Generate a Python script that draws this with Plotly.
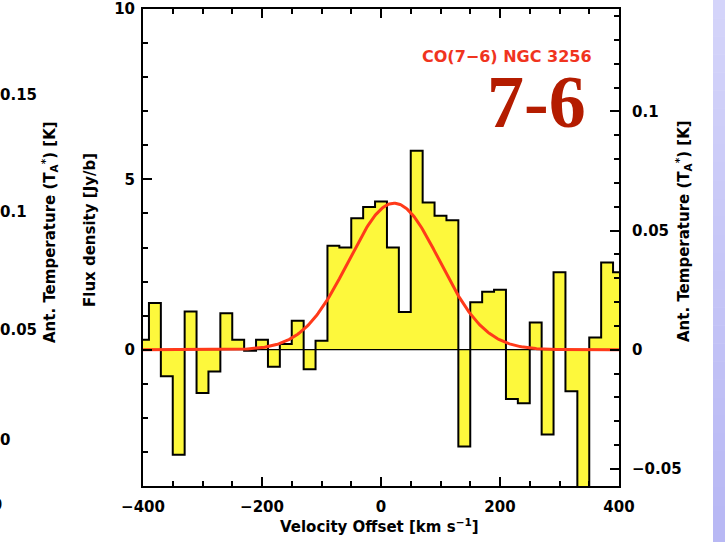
import numpy as np
import plotly.graph_objects as go

# ---------------- data ----------------
bin_centers = [-400, -380, -360, -340, -320, -300, -280, -260, -240, -220,
               -200, -180, -160, -140, -120, -100, -80, -60, -40, -20,
               0, 20, 40, 60, 80, 100, 120, 140, 160, 180,
               200, 220, 240, 260, 280, 300, 320, 340, 360, 380, 400]
flux_density = [0.29, 1.37, -0.78, -3.08, 1.12, -1.27, -0.64, 1.07, 0.29, -0.03,
                0.29, -0.50, 0.17, 0.85, -0.57, 0.26, 3.05, 3.00, 3.86, 4.19,
                4.35, 3.00, 1.11, 5.84, 4.32, 3.93, 3.80, -2.84, 1.39, 1.70,
                1.76, -1.45, -1.57, 0.80, -2.49, 2.27, -1.22, -4.60, 0.36, 2.56, 2.27]
bin_width = 20
# Gaussian fit
fit_amplitude = 4.30   # Jy/b
fit_center = 22.0      # km/s
fit_fwhm = 180.0       # km/s
# conversion Jy/b -> K (right axis)
k_per_jy = 0.0143
x_range = [-400, 400]
y_range = [-4, 10]
title_text = "CO(7\u22126) NGC 3256"
big_label = "7-6"
# tick labels of the neighbouring (cut-off) panel on the left
prev_panel_labels = ["0.15", "0.1", "0.05", "0"]

# ---------------- layout geometry ----------------
W_FIG, H_FIG = 725, 542
L, R, T, B = 143, 619, 9, 486
PW, PH = R - L, B - T


def px(x):
    return (x - L) / PW


def py(y):
    return (B - y) / PH


FONT = "DejaVu Sans"

edges = [c - bin_width / 2 for c in bin_centers] + [bin_centers[-1] + bin_width / 2]
steps = flux_density + [flux_density[-1]]

sigma = fit_fwhm / (2 * np.sqrt(2 * np.log(2)))
vfit = np.linspace(x_range[0], x_range[1], 401)
ffit = fit_amplitude * np.exp(-0.5 * ((vfit - fit_center) / sigma) ** 2)

fig = go.Figure()
fig.add_trace(go.Scatter(x=edges, y=steps, mode="lines", line_shape="hv",
                         line=dict(color="black", width=2),
                         fill="tozeroy", fillcolor="#fdf83c",
                         hoverinfo="skip", showlegend=False))
fig.add_trace(go.Scatter(x=x_range, y=[0, 0], mode="lines",
                         line=dict(color="black", width=1.2),
                         hoverinfo="skip", showlegend=False))
fig.add_trace(go.Scatter(x=vfit, y=ffit, mode="lines",
                         line=dict(color="#ff3a1a", width=3),
                         hoverinfo="skip", showlegend=False))
fig.add_trace(go.Scatter(x=[0], y=[0], yaxis="y2", mode="markers",
                         marker=dict(opacity=0), hoverinfo="skip", showlegend=False))

tickfont = dict(family=FONT, size=15, color="black", weight="bold")
axis_common = dict(ticks="inside", ticklen=9, tickwidth=1.5, tickcolor="black",
                   showline=True, linewidth=2, linecolor="black", automargin=False,
                   showgrid=False, zeroline=False, tickfont=tickfont)
minor_common = dict(ticks="inside", ticklen=5, tickwidth=1.5, tickcolor="black",
                    showgrid=False)

fig.update_layout(
    width=W_FIG, height=H_FIG,
    margin=dict(l=L, r=W_FIG - R, t=T, b=H_FIG - B, autoexpand=False),
    paper_bgcolor="white", plot_bgcolor="white",
    xaxis=dict(range=x_range, tickmode="linear", tick0=-400, dtick=200,
               mirror="ticks", ticklabelstandoff=6,
               minor=dict(dtick=50, tick0=-400, **minor_common),
               **axis_common),
    yaxis=dict(range=y_range, tickmode="linear", tick0=0, dtick=5,
               ticklabelstandoff=3,
               minor=dict(dtick=1, tick0=0, **minor_common),
               **axis_common),
    yaxis2=dict(range=[y_range[0] * k_per_jy, y_range[1] * k_per_jy],
                overlaying="y", side="right", tickmode="linear", tick0=0, dtick=0.05,
                ticklabelstandoff=8,
                minor=dict(dtick=0.01, tick0=0, **minor_common),
                **axis_common),
)

lab_font = dict(family=FONT, size=15, color="black", weight="bold")
ann = []
ann.append(dict(text="Velocity Offset [km s<sup>\u22121</sup>]", x=px(379), y=py(526),
                xref="paper", yref="paper", showarrow=False, font=lab_font,
                xanchor="center", yanchor="middle"))
ann.append(dict(text="Flux density [Jy/b]", x=px(90), y=py(230),
                xref="paper", yref="paper", showarrow=False, font=lab_font,
                textangle=-90, xanchor="center", yanchor="middle"))
ann.append(dict(text="Ant. Temperature (T<sub>A</sub><sup>*</sup>) [K]", x=px(683), y=py(231),
                xref="paper", yref="paper", showarrow=False, font=lab_font,
                textangle=-90, xanchor="center", yanchor="middle"))
ann.append(dict(text="Ant. Temperature (T<sub>A</sub><sup>*</sup>) [K]", x=px(49), y=py(232),
                xref="paper", yref="paper", showarrow=False, font=lab_font,
                textangle=-90, xanchor="center", yanchor="middle"))
for lab, yy in zip(prev_panel_labels, [95, 212, 330, 440]):
    ann.append(dict(text=lab, x=px(-2), y=py(yy), xref="paper", yref="paper",
                    showarrow=False, font=tickfont, xanchor="left", yanchor="middle"))
ann.append(dict(text="400", x=px(4), y=py(505), xref="paper", yref="paper",
                showarrow=False, font=tickfont, xanchor="right", yanchor="middle"))
ann.append(dict(text=title_text, x=px(507), y=py(57), xref="paper", yref="paper",
                showarrow=False, xanchor="center", yanchor="middle",
                font=dict(family=FONT, size=16, color="#f0341e", weight="bold")))
ann.append(dict(text="<b>" + big_label + "</b>", x=px(536), y=py(102), xref="paper", yref="paper",
                showarrow=False, xanchor="center", yanchor="middle", height=58,
                font=dict(family="Liberation Serif", size=74, color="#b41c00")))
fig.update_layout(annotations=ann)

# slide background strip on the right (vertical gradient)
shapes = []
n = 30
top_c = np.array([212, 212, 250])
bot_c = np.array([184, 184, 244])
for i in range(n):
    c = top_c + (bot_c - top_c) * i / (n - 1)
    y0 = i * H_FIG / n
    y1 = (i + 1) * H_FIG / n + 0.5
    shapes.append(dict(type="rect", xref="paper", yref="paper",
                       x0=px(713), x1=px(726), y0=py(y1), y1=py(y0),
                       line=dict(width=0),
                       fillcolor="rgb(%d,%d,%d)" % tuple(c.astype(int)), layer="above"))
fig.update_layout(shapes=shapes)

fig.write_html("out.html")
